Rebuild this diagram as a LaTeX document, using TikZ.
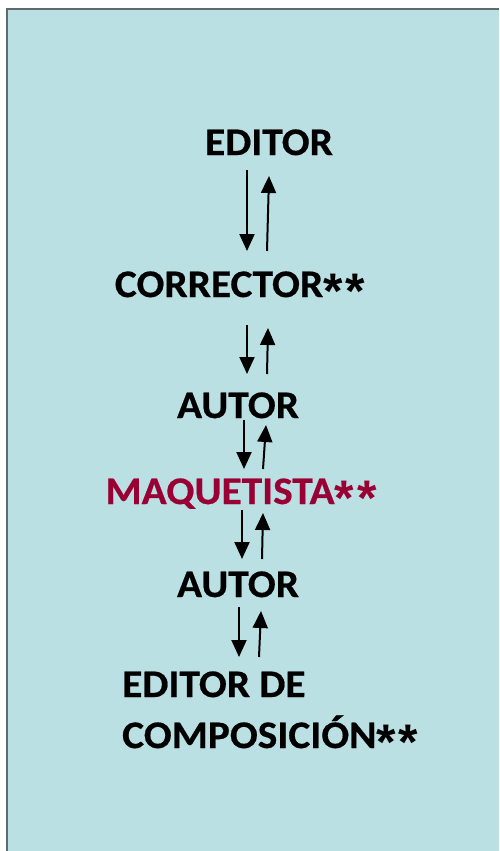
\documentclass[tikz,border=0pt]{standalone}
\usepackage{fontspec}
\setmainfont{Carlito}[FakeStretch=1.06,FakeBold=0.5]
\newfontfamily\astfont{Liberation Sans}
\newcommand{\twoast}{\raisebox{-11pt}{\astfont\bfseries\fontsize{50}{50}\selectfont *\hspace{3pt}*}}
\usetikzlibrary{arrows.meta}
\definecolor{bgblue}{HTML}{BAE0E4}
\definecolor{framegray}{HTML}{5E6A6D}
\definecolor{maqred}{HTML}{990033}
\tikzset{
  lbl/.style={anchor=base, inner sep=0pt, font=\fontsize{39}{46}\selectfont\bfseries, text=black},
  flow/.style={line width=2pt, draw=black, -{Triangle[width=15pt,length=17pt]}},
}
\begin{document}
\begin{tikzpicture}[x=1pt,y=-1pt]
\useasboundingbox (0,0) rectangle (499,851);
\fill[white] (0,0) rectangle (499,851);
\fill[bgblue] (7,9) rectangle (499,851);
\draw[framegray, line width=2pt] (7,851) -- (7,9) -- (499,9);

\node[lbl] (editor) at (269,155) {EDITOR};
\node[lbl] (corrector) at (240,297) {CORRECTOR\twoast};
\node[lbl] (autorA) at (238,418) {AUTOR};
\node[lbl, text=maqred] (maq) at (241,504) {MAQUETISTA\twoast};
\node[lbl] (autorB) at (238,597) {AUTOR};
\node[lbl, anchor=base west] (edcomp) at (122,697) {EDITOR DE};
\node[lbl, anchor=base west] (comp) at (122,748) {COMPOSICIÓN\twoast};

% arrow end coordinates
\coordinate (d1s) at (247,170); \coordinate (d1e) at (247,251);
\coordinate (u1s) at (267,251); \coordinate (u1e) at (269,176);
\coordinate (d2s) at (247,325); \coordinate (d2e) at (247,374);
\coordinate (u2s) at (267,374); \coordinate (u2e) at (268,328);
\coordinate (d3s) at (244,420); \coordinate (d3e) at (244,469);
\coordinate (u3s) at (263,469); \coordinate (u3e) at (266,425);
\coordinate (d4s) at (242,510); \coordinate (d4e) at (242,559);
\coordinate (u4s) at (262,559); \coordinate (u4e) at (263,513);
\coordinate (d5s) at (239,607); \coordinate (d5e) at (239,657);
\coordinate (u5s) at (259,657); \coordinate (u5e) at (261,611);

\draw[flow] (d1s) -- (d1e);
\draw[flow] (u1s) -- (u1e);
\draw[flow] (d2s) -- (d2e);
\draw[flow] (u2s) -- (u2e);
\draw[flow] (d3s) -- (d3e);
\draw[flow] (u3s) -- (u3e);
\draw[flow] (d4s) -- (d4e);
\draw[flow] (u4s) -- (u4e);
\draw[flow] (d5s) -- (d5e);
\draw[flow] (u5s) -- (u5e);
\end{tikzpicture}
\end{document}
